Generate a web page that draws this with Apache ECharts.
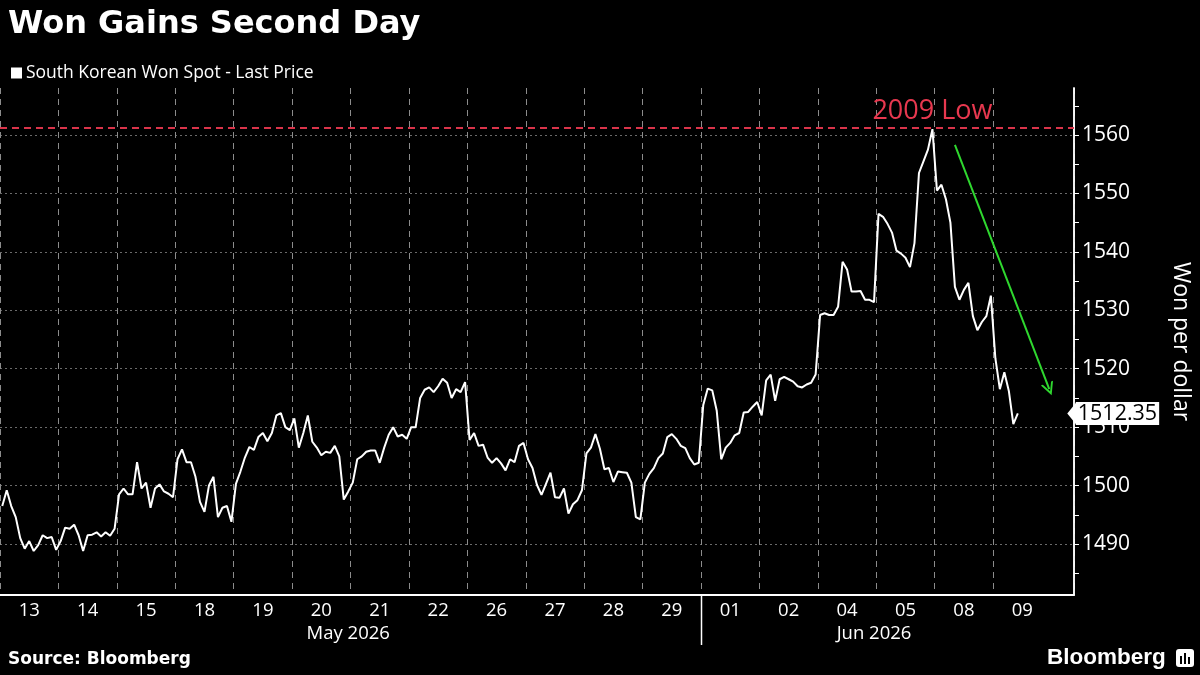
<!DOCTYPE html>
<html>
<head>
<meta charset="utf-8">
<title>Won Gains Second Day</title>
<script src="https://cdn.jsdelivr.net/npm/echarts@6.0.0/dist/echarts.min.js"></script>
<style>
  html, body { margin: 0; padding: 0; background: #000; }
  #chart { width: 1200px; height: 675px; }
</style>
</head>
<body>
<div id="chart"></div>
<script>
// trading days shown on the axis
var dayLabels = ['13', '14', '15', '18', '19', '20', '21', '22', '26', '27', '28', '29',
                 '01', '02', '04', '05', '08', '09'];
var monthNames = ['May 2026', 'Jun 2026'];
var monthDays = [12, 6];           // number of trading days in each month block
var slotsPerDay = 13;              // intraday samples per day
var trailingSlots = 5;             // empty space after the last day

// USD/KRW spot, intraday samples
var may13 = [1496.5, 1499.2, 1496.5, 1494.6, 1491.0, 1489.2, 1490.5, 1488.8, 1489.8, 1491.5, 1491.0, 1491.2, 1489.0];
var may14 = [1490.5, 1492.8, 1492.6, 1493.3, 1491.5, 1488.8, 1491.5, 1491.6, 1492.0, 1491.3, 1492.0, 1491.4, 1492.6];
var may15 = [1498.5, 1499.5, 1498.5, 1498.5, 1504.0, 1499.5, 1500.5, 1496.2, 1499.5, 1500.2, 1499.0, 1498.6, 1498.0];
var may18 = [1504.5, 1506.2, 1504.0, 1504.0, 1501.5, 1497.2, 1495.5, 1500.0, 1501.5, 1494.6, 1496.2, 1496.5, 1493.8];
var may19 = [1500.3, 1502.4, 1504.8, 1506.6, 1506.1, 1508.3, 1509.0, 1507.6, 1509.0, 1512.0, 1512.4, 1510.0, 1509.5];
var may20 = [1511.5, 1506.5, 1509.0, 1512.0, 1507.5, 1506.5, 1505.2, 1505.8, 1505.6, 1506.8, 1505.0, 1497.6, 1499.0];
var may21 = [1500.5, 1504.5, 1505.0, 1505.8, 1506.0, 1506.0, 1503.9, 1506.5, 1508.7, 1510.0, 1508.4, 1508.7, 1508.0];
var may22 = [1510.0, 1510.0, 1515.0, 1516.4, 1516.8, 1516.0, 1517.0, 1518.3, 1517.6, 1515.0, 1516.5, 1516.0, 1517.7];
var may26 = [1507.8, 1509.0, 1506.8, 1507.0, 1504.8, 1503.9, 1504.7, 1503.8, 1502.6, 1504.5, 1504.0, 1506.8, 1507.3];
var may27 = [1504.5, 1503.0, 1500.1, 1498.4, 1500.3, 1502.2, 1498.0, 1497.9, 1499.5, 1495.2, 1496.8, 1497.5, 1499.2];
var may28 = [1505.5, 1506.5, 1508.8, 1506.3, 1502.8, 1503.0, 1500.6, 1502.4, 1502.3, 1502.2, 1500.5, 1494.6, 1494.2];
var may29 = [1500.5, 1502.0, 1503.0, 1504.7, 1505.5, 1508.3, 1508.8, 1508.0, 1506.8, 1506.4, 1504.7, 1503.6, 1503.9];
var jun01 = [1513.8, 1516.6, 1516.3, 1512.8, 1504.5, 1506.5, 1507.3, 1508.6, 1509.0, 1512.5, 1512.6, 1513.5, 1514.3];
var jun02 = [1512.0, 1518.0, 1519.0, 1514.5, 1518.2, 1518.6, 1518.2, 1517.8, 1517.0, 1516.8, 1517.3, 1517.6, 1519.0];
var jun04 = [1529.2, 1529.5, 1529.2, 1529.2, 1530.6, 1538.3, 1537.0, 1533.2, 1533.2, 1533.3, 1531.8, 1531.8, 1531.4];
var jun05 = [1546.5, 1546.0, 1544.8, 1543.3, 1540.2, 1539.7, 1539.0, 1537.4, 1541.5, 1553.5, 1555.5, 1557.5, 1561.0];
var jun08 = [1550.5, 1551.5, 1549.0, 1545.0, 1534.0, 1531.8, 1533.5, 1534.7, 1529.0, 1526.6, 1528.0, 1529.0, 1532.5];
var jun09 = [1521.8, 1516.5, 1519.4, 1516.2, 1510.5, 1512.35];

var dayValues = [may13, may14, may15, may18, may19, may20, may21, may22, may26, may27, may28, may29,
                 jun01, jun02, jun04, jun05, jun08, jun09];

// y axis
var yMin = 1481.27;
var yMax = 1568.05;
var yLabels = [1490, 1500, 1510, 1520, 1530, 1540, 1550, 1560];
var yHalfTicks = [1485, 1495, 1505, 1515, 1525, 1535, 1545, 1555, 1565];

// annotations
var lowLevel = 1561.2;                 // 2009 low
var arrowFrom = [212, 1558.3];         // [slot, value]
var arrowTo = [233, 1516.5];

// build categories + series from the day arrays
var categories = [];
var seriesData = [];
dayValues.forEach(function (vals, d) {
  for (var k = 0; k < slotsPerDay; k++) {
    categories.push(dayLabels[d] + ' ' + k);
    seriesData.push(k < vals.length ? vals[k] : null);
  }
});
for (var t = 0; t < trailingSlots; t++) {
  categories.push('end ' + t);
  seriesData.push(null);
}
var nDaySlots = dayLabels.length * slotsPerDay;
var junStart = monthDays[0] * slotsPerDay;
var lastValue = jun09[jun09.length - 1];

var peakIndex = 0;
seriesData.forEach(function (v, i) {
  if (v != null && v > seriesData[peakIndex]) peakIndex = i;
});

var monthLabelAt = {};
var start = 0;
monthDays.forEach(function (n, m) {
  monthLabelAt[start + Math.round(n * slotsPerDay / 2) - 1] = monthNames[m];
  start += n * slotsPerDay;
});

var chart = echarts.init(document.getElementById('chart'));

var option = {
  backgroundColor: '#000',
  animation: false,
  textStyle: { fontFamily: 'Open Sans' },
  title: {
    text: 'Won Gains Second Day',
    left: 3,
    top: 4,
    textStyle: { color: '#fff', fontFamily: 'DejaVu Sans', fontWeight: 'bold', fontSize: 32 }
  },
  legend: {
    data: ['South Korean Won Spot - Last Price'],
    left: 6,
    top: 59,
    icon: 'rect',
    itemWidth: 11,
    itemHeight: 11,
    itemGap: 10,
    textStyle: { color: '#fff', fontSize: 17.5, padding: [0, 0, 0, -1] }
  },
  grid: { left: 0, right: 124, top: 88, bottom: 80 },
  xAxis: [{
    type: 'category',
    data: categories,
    boundaryGap: true,
    axisLine: { lineStyle: { color: '#fff', width: 2 } },
    axisTick: { show: false },
    axisLabel: {
      interval: function (i) { return i % slotsPerDay === 6 && i < nDaySlots; },
      formatter: function (v) { return v.split(' ')[0]; },
      color: '#fff',
      fontSize: 18.5,
      margin: 6
    },
    splitLine: {
      show: true,
      interval: function (i) { return i % slotsPerDay === 0 && i < nDaySlots; },
      lineStyle: { color: '#8c8c8c', type: [6, 5], width: 1 }
    }
  }, {
    type: 'category',
    data: categories,
    position: 'bottom',
    offset: 23,
    axisLine: { show: false },
    axisTick: { show: false },
    splitLine: { show: false },
    axisLabel: {
      interval: function (i) { return monthLabelAt[i] !== undefined; },
      formatter: function (v, i) { return monthLabelAt[i] || ''; },
      color: '#fff',
      fontSize: 18.5,
      margin: 6
    }
  }],
  yAxis: [{
    type: 'value',
    position: 'right',
    min: yMin,
    max: yMax,
    name: 'Won per dollar',
    nameLocation: 'middle',
    nameRotate: -90,
    nameGap: 95,
    nameTextStyle: { color: '#fff', fontSize: 23 },
    axisLine: { show: true, lineStyle: { color: '#fff', width: 1.5 } },
    axisTick: { show: true, customValues: yLabels, length: 5, lineStyle: { color: '#fff' } },
    axisLabel: {
      customValues: yLabels,
      formatter: function (v) { return String(Math.round(v)); },
      color: '#fff',
      fontSize: 21,
      margin: 8
    },
    splitLine: { show: true, lineStyle: { color: '#6a6a6a', type: [2, 3], width: 1 } }
  }, {
    type: 'value',
    position: 'right',
    min: yMin,
    max: yMax,
    axisLine: { show: true, lineStyle: { color: '#fff', width: 1.5 } },
    axisTick: { show: true, customValues: yHalfTicks, length: 5, lineStyle: { color: '#fff' } },
    axisLabel: { show: false },
    splitLine: { show: false }
  }],
  series: [{
    name: 'South Korean Won Spot - Last Price',
    type: 'line',
    data: seriesData,
    xAxisIndex: 0,
    yAxisIndex: 0,
    showSymbol: false,
    symbol: 'none',
    itemStyle: { color: '#fff' },
    lineStyle: { color: '#fff', width: 2 },
    markLine: {
      silent: true,
      symbol: ['none', 'none'],
      label: { show: false },
      data: [
        { yAxis: lowLevel, lineStyle: { color: '#d9344a', type: [7, 5], width: 2 } },
        [
          { coord: arrowFrom, symbol: 'none', lineStyle: { color: '#2fd82f', type: 'solid', width: 2 } },
          { coord: arrowTo, symbol: 'path://M5,0 L10,10 L8.4,10 L5,3.2 L1.6,10 L0,10 Z', symbolSize: [13, 13] }
        ],
        [
          { coord: [0, lastValue], symbol: 'none', lineStyle: { color: '#fff', width: 0, type: 'solid' } },
          {
            coord: [categories.length - 1, lastValue],
            symbol: 'path://M0,0 L10,0 L5,10 Z',
            symbolSize: [22, 9],
            label: {
              show: true,
              position: 'end',
              distance: 4,
              formatter: lastValue.toFixed(2),
              color: '#000',
              backgroundColor: '#fff',
              fontSize: 21.5,
              padding: [1, 2, 0, 2]
            }
          }
        ]
      ]
    },
    markPoint: {
      silent: true,
      symbol: 'circle',
      symbolSize: 1,
      itemStyle: { color: 'rgba(0,0,0,0)' },
      data: [{
        coord: [peakIndex, lowLevel],
        label: {
          show: true,
          position: 'top',
          distance: 3,
          formatter: '2009 Low',
          color: '#e8384f',
          fontSize: 27
        }
      }]
    }
  }],
  graphic: [
    {
      id: 'source',
      type: 'text',
      left: 8,
      top: 651,
      style: { text: 'Source: Bloomberg', fill: '#fff', font: 'bold 17px "DejaVu Sans"' }
    },
    {
      id: 'brand',
      type: 'text',
      left: 1047,
      top: 646,
      style: { text: 'Bloomberg', fill: '#fff', font: 'bold 22.5px "Liberation Sans"' }
    },
    {
      id: 'brandIcon',
      type: 'group',
      left: 1176,
      top: 649,
      children: [
        { type: 'rect', shape: { x: 0, y: 0, width: 18, height: 18, r: 3 }, style: { fill: '#fff' } },
        { type: 'rect', shape: { x: 4, y: 7, width: 2, height: 8 }, style: { fill: '#000' } },
        { type: 'rect', shape: { x: 8, y: 4, width: 2, height: 11 }, style: { fill: '#000' } },
        { type: 'rect', shape: { x: 12, y: 8, width: 2, height: 7 }, style: { fill: '#000' } }
      ]
    }
  ]
};

chart.setOption(option);

// solid separator between the May and June blocks, below the axis
var c0 = chart.convertToPixel({ xAxisIndex: 0 }, 0);
var c1 = chart.convertToPixel({ xAxisIndex: 0 }, 1);
var sepX = Math.round(chart.convertToPixel({ xAxisIndex: 0 }, junStart) - (c1 - c0) / 2) + 0.5;
var axisY = chart.convertToPixel({ yAxisIndex: 0 }, yMin);
chart.setOption({
  graphic: [{
    id: 'monthSep',
    type: 'line',
    shape: { x1: sepX, y1: axisY, x2: sepX, y2: axisY + 50 },
    style: { stroke: '#fff', lineWidth: 1.5 }
  }]
});
</script>
</body>
</html>
